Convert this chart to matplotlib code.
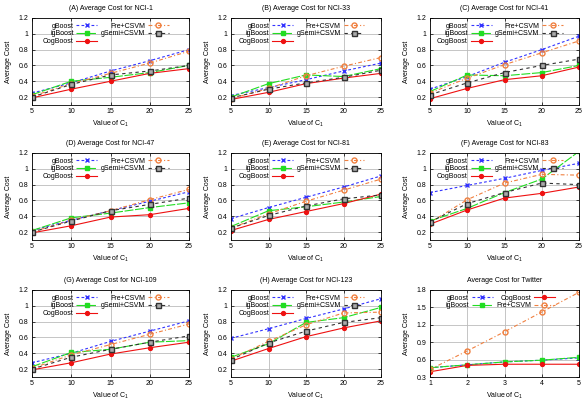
import numpy as np
import matplotlib
matplotlib.use("Agg")
import matplotlib.pyplot as plt

c1 = [5, 10, 15, 20, 25]
c1_twitter = [1, 2, 3, 4, 5]

titles = ["(A) Average Cost for NCI-1", "(B) Average Cost for NCI-33",
          "(C) Average Cost for NCI-41", "(D) Average Cost for NCI-47",
          "(E) Average Cost for NCI-81", "(F) Average Cost for NCI-83",
          "(G) Average Cost for NCI-109", "(H) Average Cost for NCI-123"]

gboost = [[0.25, 0.38, 0.53, 0.66, 0.80],
          [0.22, 0.32, 0.42, 0.53, 0.63],
          [0.30, 0.46, 0.64, 0.80, 0.97],
          [0.22, 0.35, 0.47, 0.59, 0.71],
          [0.37, 0.51, 0.64, 0.77, 0.91],
          [0.70, 0.79, 0.88, 0.98, 1.07],
          [0.28, 0.40, 0.55, 0.68, 0.81],
          [0.59, 0.71, 0.84, 0.96, 1.09]]
igboost = [[0.23, 0.40, 0.45, 0.51, 0.60],
           [0.20, 0.37, 0.48, 0.46, 0.56],
           [0.27, 0.48, 0.47, 0.51, 0.60],
           [0.22, 0.38, 0.44, 0.51, 0.57],
           [0.27, 0.47, 0.52, 0.58, 0.65],
           [0.34, 0.50, 0.70, 0.87, 1.22],
           [0.23, 0.41, 0.45, 0.54, 0.56],
           [0.35, 0.52, 0.79, 0.85, 0.98]]
cogboost = [[0.19, 0.30, 0.40, 0.50, 0.56],
            [0.17, 0.26, 0.37, 0.44, 0.50],
            [0.18, 0.31, 0.42, 0.47, 0.58],
            [0.19, 0.28, 0.39, 0.42, 0.50],
            [0.22, 0.36, 0.46, 0.56, 0.68],
            [0.30, 0.48, 0.63, 0.69, 0.77],
            [0.19, 0.28, 0.39, 0.47, 0.54],
            [0.30, 0.46, 0.61, 0.72, 0.81]]
fre_csvm = [[0.21, 0.37, 0.50, 0.63, 0.78],
            [0.18, 0.31, 0.47, 0.59, 0.70],
            [0.25, 0.44, 0.61, 0.76, 0.91],
            [0.20, 0.35, 0.47, 0.61, 0.74],
            [0.25, 0.43, 0.59, 0.73, 0.87],
            [0.32, 0.61, 0.82, 0.93, 0.92],
            [0.21, 0.38, 0.51, 0.64, 0.77],
            [0.33, 0.55, 0.76, 0.91, 0.92]]
gsemi_csvm = [[0.20, 0.36, 0.48, 0.53, 0.60],
              [0.19, 0.30, 0.38, 0.45, 0.54],
              [0.23, 0.38, 0.51, 0.60, 0.68],
              [0.20, 0.34, 0.47, 0.55, 0.63],
              [0.25, 0.41, 0.53, 0.62, 0.67],
              [0.33, 0.56, 0.70, 0.82, 0.80],
              [0.20, 0.35, 0.45, 0.54, 0.62],
              [0.32, 0.53, 0.68, 0.79, 0.85]]

tw_gboost = [0.46, 0.51, 0.56, 0.59, 0.63]
tw_igboost = [0.46, 0.51, 0.56, 0.59, 0.64]
tw_cogboost = [0.39, 0.50, 0.52, 0.52, 0.52]
tw_fre = [0.43, 0.75, 1.08, 1.42, 1.76]

plt.rcParams['font.family'] = 'Liberation Sans'
plt.rcParams['font.size'] = 5.0
plt.rcParams['mathtext.fontset'] = 'custom'
plt.rcParams['mathtext.rm'] = 'Liberation Sans'
plt.rcParams['mathtext.it'] = 'Liberation Sans'

styles = {
    'gBoost': dict(color='#3333ff', ls=(0, (2.5, 2)), marker='x', ms=3.2, mfc='none'),
    'igBoost': dict(color='#22dd22', ls=(0, (8, 1.5)), marker='s', ms=2.8),
    'CogBoost': dict(color='#ee1111', ls='-', marker='o', ms=2.8),
    'Fre+CSVM': dict(color='#f08040', ls=(0, (3.5, 2, 1, 2)), marker='o', ms=3.6, mfc='none'),
    'gSemi+CSVM': dict(color='#333333', ls=(0, (3, 3)), marker='s', ms=3.6, mfc='#aaaaaa'),
}

fig = plt.figure(figsize=(5.86, 4.0), dpi=100)

lefts = [32, 231, 430]
widths = [157, 150, 149]
bottoms = [105, 240, 377]
height = 87


def make_ax(i):
    r, c = divmod(i, 3)
    ax = fig.add_axes([lefts[c] / 586, (400 - bottoms[r]) / 400,
                       widths[c] / 586, height / 400])
    ax.grid(True, color='#bbbbbb', lw=0.6)
    ax.tick_params(length=2, width=0.5, pad=2.5, direction='in',
                   top=True, right=True)
    for s in ax.spines.values():
        s.set_linewidth(0.6)
    ax.set_xlabel("Value of C$_1$", labelpad=2.5)
    ax.set_ylabel("Average Cost", labelpad=5)
    return ax


def tick_fmt(v):
    return f"{v:g}"


def add_legend(ax):
    ax.legend(ncol=2, loc='upper center', bbox_to_anchor=(0.47, 1.0),
              frameon=False, markerfirst=False, handlelength=3.0,
              columnspacing=0.5, labelspacing=0.08, borderpad=0.2,
              handletextpad=0.4, alignment='right')


for i in range(8):
    ax = make_ax(i)
    series = [('gBoost', gboost[i]), ('igBoost', igboost[i]),
              ('CogBoost', cogboost[i]), ('Fre+CSVM', fre_csvm[i]),
              ('gSemi+CSVM', gsemi_csvm[i])]
    for name, vals in series:
        ax.plot(c1, vals, lw=0.8, label=name, **styles[name])
    ax.set_xlim(5, 25)
    ax.set_xticks(c1)
    ax.set_ylim(0.1, 1.2)
    yt = [0.2, 0.4, 0.6, 0.8, 1.0, 1.2]
    ax.set_yticks(yt)
    ax.set_yticklabels([tick_fmt(v) for v in yt])
    ax.set_title(titles[i], pad=6, fontsize=5.0)
    add_legend(ax)

ax = make_ax(8)
series = [('gBoost', tw_gboost), ('igBoost', tw_igboost),
          ('CogBoost', tw_cogboost), ('Fre+CSVM', tw_fre)]
for name, vals in series:
    ax.plot(c1_twitter, vals, lw=0.8, label=name, **styles[name])
ax.set_xlim(1, 5)
ax.set_xticks(c1_twitter)
ax.set_ylim(0.3, 1.8)
yt = [0.3, 0.6, 0.9, 1.2, 1.5, 1.8]
ax.set_yticks(yt)
ax.set_yticklabels([tick_fmt(v) for v in yt])
ax.set_title("Average Cost for Twitter", pad=6, fontsize=5.0)
add_legend(ax)

fig.savefig("out.png", dpi=100)
